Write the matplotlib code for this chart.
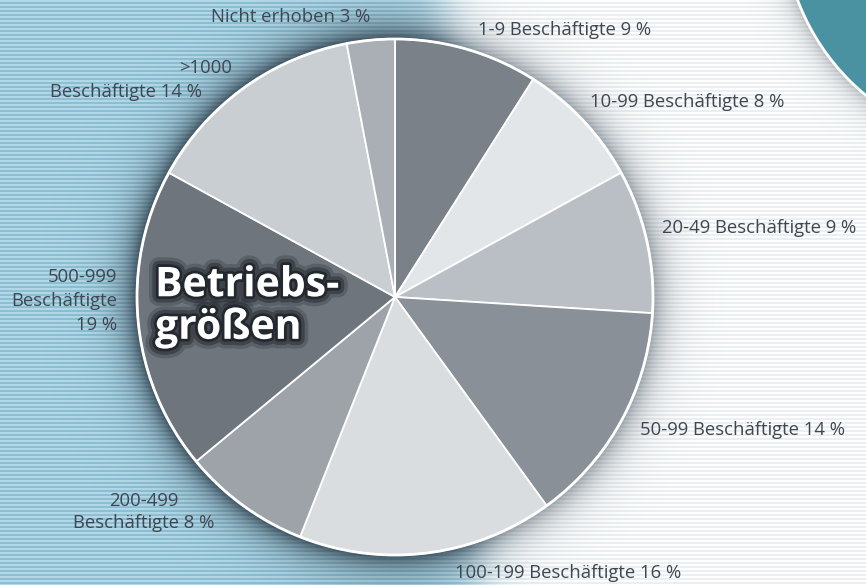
import numpy as np
import matplotlib
matplotlib.use("Agg")
import matplotlib.pyplot as plt
import matplotlib.patheffects as pe
from matplotlib.patches import Circle

# ---------------- data ----------------
categories = ["1-9", "10-99", "20-49", "50-99", "100-199", "200-499",
              "500-999", ">1000", "Nicht erhoben"]
shares = [9, 8, 9, 14, 16, 8, 19, 14, 3]
colors = ["#7b8189", "#e3e6e8", "#b9bfc4", "#899097", "#d9dde0",
          "#9da3a9", "#6f757d", "#c9ced3", "#a9afb5"]
title = "Betriebs-\ngrößen"

# ---------------- layout ----------------
W, H = 866, 585
cx, cy_px, R = 395, 297, 258
fig = plt.figure(figsize=(W / 100, H / 100), dpi=100)
ax = fig.add_axes([0, 0, 1, 1])

# background: striped blue on the left, faint stripes on white to the right
yy, xx = np.mgrid[0:H, 0:W] + 0.5
stripe = (np.floor(yy) % 4) < 2
blue = np.where(stripe[..., None], np.array([0.70, 0.85, 0.91]), np.array([0.55, 0.75, 0.83]))
white = np.where(stripe[..., None], np.array([1.0, 1.0, 1.0]), np.array([0.92, 0.94, 0.955]))
edge = 445 + 0.06 * yy
t = 1 / (1 + np.exp(-(xx - edge) / 14))
bg = blue * (1 - t[..., None]) + white * t[..., None]

# shadow halo around pie
d = np.hypot(xx - cx, yy - cy_px)
sh = np.exp(-np.clip(d - R, 0, None) / 16)
strength = 0.85 * (1 - t) + 0.45 * t
a = (strength * sh)[..., None]
bg = bg * (1 - a) + np.array([0.16, 0.22, 0.27]) * a

# shadow of teal circle (top right)
tcx, tcy, tR = 1010, -80, 227
d2 = np.hypot(xx - tcx, yy - tcy)
sh2 = np.exp(-np.clip(d2 - tR, 0, None) / 12)
a2 = (0.35 * sh2)[..., None]
bg = bg * (1 - a2) + np.array([0.3, 0.33, 0.36]) * a2

ax.imshow(bg, extent=[0, W, 0, H], origin="upper", zorder=0, interpolation="nearest")

# teal circle
ax.add_patch(Circle((tcx, H - tcy), tR, facecolor="#4a91a1", edgecolor="white", lw=2, zorder=1))

# pie
ax.pie(shares, colors=colors, startangle=90, counterclock=False,
       center=(cx, H - cy_px), radius=R,
       wedgeprops=dict(edgecolor="white", linewidth=1.3), frame=True)
ax.add_patch(Circle((cx, H - cy_px), R, fill=False, edgecolor="white", lw=2, zorder=5))

ax.set_xlim(0, W)
ax.set_ylim(0, H)
ax.set_aspect("equal")
ax.axis("off")

# labels
tc = "#3e4650"
fs = 13.3
font = "Open Sans"
def lab(x, y, s, ha="left", **kw):
    ax.text(x, H - y, s, ha=ha, va="center", color=tc, fontsize=fs,
            family=font, zorder=6, **kw)

v = dict(zip(categories, shares))
lab(370, 17, f"Nicht erhoben {v['Nicht erhoben']} %", ha="right")
lab(478, 30, f"1-9 Beschäftigte {v['1-9']} %")
lab(590, 102, f"10-99 Beschäftigte {v['10-99']} %")
lab(662, 228, f"20-49 Beschäftigte {v['20-49']} %")
lab(640, 430, f"50-99 Beschäftigte {v['50-99']} %")
lab(455, 573, f"100-199 Beschäftigte {v['100-199']} %")
lab(144, 512, f"200-499\nBeschäftigte {v['200-499']} %", ha="center", linespacing=1.35, multialignment="center")
lab(117, 301, f"500-999\nBeschäftigte\n{v['500-999']} %", ha="right", linespacing=1.4, multialignment="right")
lab(232, 68, ">1000", ha="right")
lab(202, 92, f"Beschäftigte {v['>1000']} %", ha="right")

# title
ax.text(155, H - 307, title, ha="left", va="center", color="white",
        fontsize=29.5, fontweight="bold", family=font, linespacing=1.05, zorder=7,
        path_effects=[pe.Stroke(linewidth=14, foreground="#1c2228", alpha=0.25),
                      pe.Stroke(linewidth=9, foreground="#1c2228", alpha=0.45),
                      pe.Stroke(linewidth=4, foreground="#1c2228", alpha=0.8),
                      pe.Normal()])

fig.savefig("out.png", dpi=100)
